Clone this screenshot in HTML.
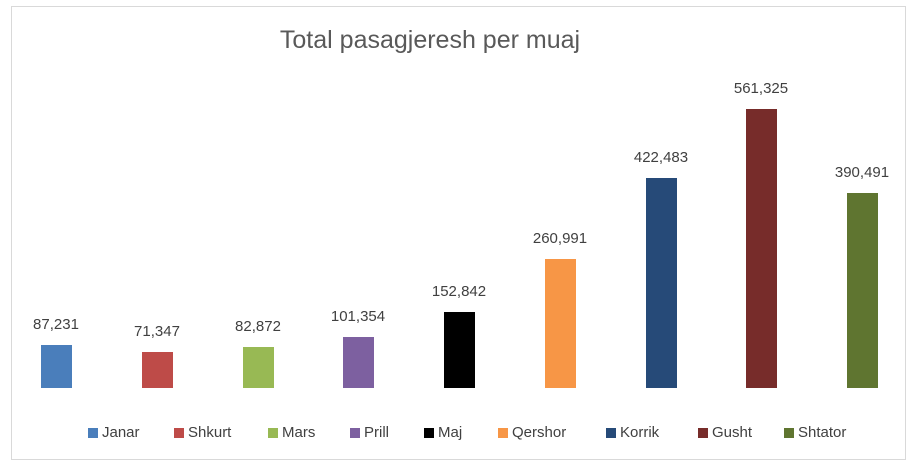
<!DOCTYPE html>
<html><head><meta charset="utf-8"><style>
body{margin:0;background:#fff;width:914px;height:466px;overflow:hidden;font-family:"Liberation Sans",sans-serif}
.b{position:absolute;width:31px;bottom:78px}
.l{position:absolute;font-size:15px;color:#404040;width:100px;text-align:center}
.k{position:absolute;top:424px;font-size:15px;color:#404040}
.k i{display:inline-block;width:10px;height:10px;margin-right:4px;vertical-align:-1px}
</style></head><body>
<div style="position:absolute;left:11px;top:6px;width:893px;height:452px;border:1px solid #d9d9d9"></div>
<div style="position:absolute;left:0;width:860px;top:26px;text-align:center;font-size:25px;color:#595959">Total pasagjeresh per muaj</div>
<div class="b" style="left:41px;top:345px;background:#4a7ebb"></div>
<div class="b" style="left:142px;top:352px;background:#be4b48"></div>
<div class="b" style="left:243px;top:347px;background:#98b954"></div>
<div class="b" style="left:343px;top:337px;background:#7d60a0"></div>
<div class="b" style="left:444px;top:312px;background:#000"></div>
<div class="b" style="left:545px;top:259px;background:#f79646"></div>
<div class="b" style="left:646px;top:178px;background:#264a78"></div>
<div class="b" style="left:746px;top:109px;background:#772c2a"></div>
<div class="b" style="left:847px;top:193px;background:#5f7530"></div>
<div class="l" style="left:6px;top:316px">87,231</div>
<div class="l" style="left:107px;top:323px">71,347</div>
<div class="l" style="left:208px;top:318px">82,872</div>
<div class="l" style="left:308px;top:308px">101,354</div>
<div class="l" style="left:409px;top:283px">152,842</div>
<div class="l" style="left:510px;top:230px">260,991</div>
<div class="l" style="left:611px;top:149px">422,483</div>
<div class="l" style="left:711px;top:80px">561,325</div>
<div class="l" style="left:812px;top:164px">390,491</div>
<div class="k" style="left:88px"><i style="background:#4a7ebb"></i>Janar</div>
<div class="k" style="left:174px"><i style="background:#be4b48"></i>Shkurt</div>
<div class="k" style="left:268px"><i style="background:#98b954"></i>Mars</div>
<div class="k" style="left:350px"><i style="background:#7d60a0"></i>Prill</div>
<div class="k" style="left:424px"><i style="background:#000"></i>Maj</div>
<div class="k" style="left:498px"><i style="background:#f79646"></i>Qershor</div>
<div class="k" style="left:606px"><i style="background:#264a78"></i>Korrik</div>
<div class="k" style="left:698px"><i style="background:#772c2a"></i>Gusht</div>
<div class="k" style="left:784px"><i style="background:#5f7530"></i>Shtator</div>
</body></html>
